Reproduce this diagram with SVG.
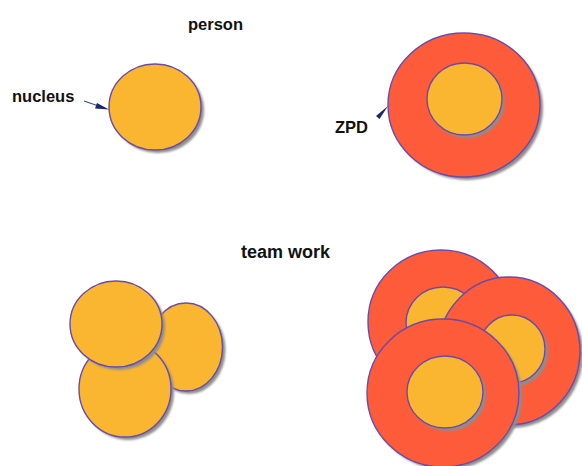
<svg xmlns="http://www.w3.org/2000/svg" width="582" height="466" viewBox="0 0 582 466">
  <style>
    .lbl { font-family: "Liberation Sans", Arial, sans-serif; font-weight: bold; fill: #111; }
    .core { fill: #FBB631; stroke: #6A4BA8; stroke-width: 1.4; }
    .zpd { fill: #FD5B3A; stroke: #6A4BA8; stroke-width: 1.4; }
    .shadow { fill: #8E8E8E; filter: url(#soft); }
    .lead { stroke: #3B4A8C; stroke-width: 1.2; fill: none; }
    .tip { fill: #1E2670; }
  </style>
  <defs>
    <filter id="soft" x="-10%" y="-10%" width="120%" height="120%">
      <feGaussianBlur stdDeviation="0.8"/>
    </filter>
  </defs>
  <rect width="582" height="466" fill="#ffffff"/>

  <!-- headings -->
  <text class="lbl" x="188" y="30" font-size="16.5">person</text>
  <text class="lbl" x="241" y="258" font-size="18">team work</text>

  <!-- single person: nucleus -->
  <g id="nucleus">
    <ellipse class="shadow" cx="158" cy="110" rx="46" ry="43"/>
    <ellipse class="core" cx="155" cy="107" rx="46" ry="43"/>
  </g>
  <g id="nucleus-label">
    <text class="lbl" x="12" y="102" font-size="16.5">nucleus</text>
  </g>

  <!-- single person with zone of proximal development -->
  <g id="person-zpd">
    <ellipse class="shadow" cx="467" cy="108" rx="76" ry="72"/>
    <ellipse class="zpd" cx="464" cy="105" rx="76" ry="72"/>
    <ellipse class="shadow" cx="467" cy="102" rx="37.5" ry="36"/>
    <ellipse class="core" cx="464.5" cy="99" rx="37.5" ry="36"/>
  </g>
  <g id="zpd-label">
    <text class="lbl" x="335" y="133" font-size="16.5">ZPD</text>
  </g>

  <!-- team work: nuclei only -->
  <g id="team-nucleus-right">
    <ellipse class="shadow" cx="189" cy="350" rx="36.5" ry="44"/>
    <ellipse class="core" cx="186" cy="347" rx="36.5" ry="44"/>
  </g>
  <g id="team-nucleus-bottom">
    <ellipse class="shadow" cx="128" cy="392" rx="46" ry="48"/>
    <ellipse class="core" cx="125" cy="389" rx="46" ry="48"/>
  </g>
  <g id="team-nucleus-top">
    <ellipse class="shadow" cx="119" cy="327" rx="46" ry="43"/>
    <ellipse class="core" cx="116" cy="324" rx="46" ry="43"/>
  </g>

  <!-- team work: nuclei with ZPD -->
  <g id="team-zpd-back">
    <ellipse class="shadow" cx="444" cy="325" rx="73" ry="72"/>
    <ellipse class="zpd" cx="441" cy="322" rx="73" ry="72"/>
    <ellipse class="shadow" cx="446" cy="326" rx="37" ry="36"/>
    <ellipse class="core" cx="443" cy="323" rx="37" ry="36"/>
  </g>
  <g id="team-zpd-right">
    <ellipse class="shadow" cx="512" cy="354" rx="71" ry="74"/>
    <ellipse class="zpd" cx="509" cy="351" rx="71" ry="74"/>
    <ellipse class="shadow" cx="515" cy="352" rx="33" ry="34"/>
    <ellipse class="core" cx="512" cy="349" rx="33" ry="34"/>
  </g>
  <g id="team-zpd-front">
    <ellipse class="shadow" cx="446" cy="396" rx="76" ry="74"/>
    <ellipse class="zpd" cx="443" cy="393" rx="76" ry="74"/>
    <ellipse class="shadow" cx="448" cy="395" rx="38" ry="36"/>
    <ellipse class="core" cx="445" cy="392" rx="38" ry="36"/>
  </g>

  <!-- label pointers -->
  <g id="connectors">
    <line class="lead" x1="84" y1="101" x2="100" y2="106.5"/>
    <polygon class="tip" points="109,109.5 97,103 95,108.5"/>
    <polygon class="tip" points="388,106 376,116 379.5,119"/>
  </g>
</svg>
